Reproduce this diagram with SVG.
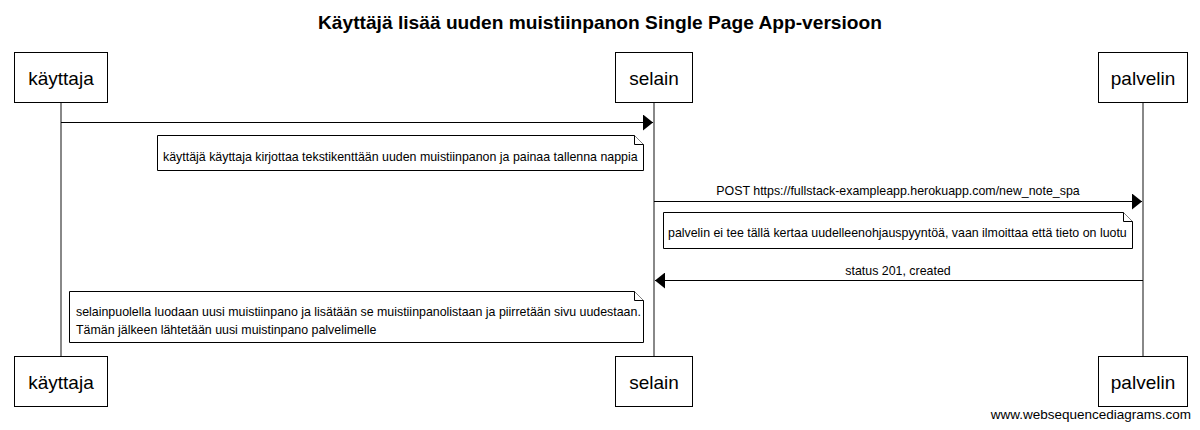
<svg xmlns="http://www.w3.org/2000/svg" width="1200" height="430" viewBox="0 0 1200 430">
<style>
text{font-family:"Liberation Sans",Arial,sans-serif;fill:#000}
.title{font-size:18.5px;font-weight:bold;text-anchor:middle}
.pbox{fill:#fff;stroke:#000;stroke-width:1}
.plabel{font-size:19px;text-anchor:middle}
.life{stroke:#888;stroke-width:2}
.msg{stroke:#000;stroke-width:1;fill:none}
.mlabel{font-size:12.4px;text-anchor:middle}
.note{fill:#fff;stroke:#000;stroke-width:1}
.ntext{font-size:12.4px}
.wm{font-size:13.5px;text-anchor:end}
</style>
<defs>
<marker id="arr" markerUnits="userSpaceOnUse" markerWidth="10" markerHeight="16" refX="10" refY="8" orient="auto">
<path d="M0,0 L10,8 L0,16 Z" fill="#000"/>
</marker>
</defs>
<text class="title" x="600" y="29" textLength="564" lengthAdjust="spacingAndGlyphs">Käyttäjä lisää uuden muistiinpanon Single Page App-versioon</text>
<g id="lifelines">
<line class="life" x1="61" y1="102" x2="61" y2="356"/>
<line class="life" x1="654" y1="102" x2="654" y2="356"/>
<line class="life" x1="1143" y1="102" x2="1143" y2="356"/>
</g>
<g id="kayttaja">
<rect class="pbox" x="14.5" y="52.5" width="93" height="50"/>
<text class="plabel" x="61" y="85">käyttaja</text>
<rect class="pbox" x="14.5" y="356.5" width="93" height="50"/>
<text class="plabel" x="61" y="389">käyttaja</text>
</g>
<g id="selain">
<rect class="pbox" x="615.5" y="52.5" width="77" height="50"/>
<text class="plabel" x="654" y="85">selain</text>
<rect class="pbox" x="615.5" y="356.5" width="77" height="50"/>
<text class="plabel" x="654" y="389">selain</text>
</g>
<g id="palvelin">
<rect class="pbox" x="1098.5" y="52.5" width="89" height="50"/>
<text class="plabel" x="1143" y="85">palvelin</text>
<rect class="pbox" x="1098.5" y="356.5" width="89" height="50"/>
<text class="plabel" x="1143" y="389">palvelin</text>
</g>
<g id="connectors">
<line class="msg" x1="61" y1="122.5" x2="653" y2="122.5" marker-end="url(#arr)"/>
<line class="msg" x1="654" y1="201.5" x2="1142" y2="201.5" marker-end="url(#arr)"/>
<text class="mlabel" x="898" y="195">POST https://fullstack-exampleapp.herokuapp.com/new_note_spa</text>
<line class="msg" x1="1143" y1="280.5" x2="655" y2="280.5" marker-end="url(#arr)"/>
<text class="mlabel" x="898" y="275">status 201, created</text>
</g>
<g id="note1">
<path class="note" d="M157.5,135.5 H634.5 L643.5,144.5 V170.5 H157.5 Z"/>
<path class="note" fill="none" d="M634.5,135.5 V144.5 H643.5"/>
<text class="ntext" x="163" y="161">käyttäjä käyttaja kirjottaa tekstikenttään uuden muistiinpanon ja painaa tallenna nappia</text>
</g>
<g id="note2">
<path class="note" d="M663.5,212.5 H1123.5 L1132.5,221.5 V248.5 H663.5 Z"/>
<path class="note" fill="none" d="M1123.5,212.5 V221.5 H1132.5"/>
<text class="ntext" x="668" y="237">palvelin ei tee tällä kertaa uudelleenohjauspyyntöä, vaan ilmoittaa että tieto on luotu</text>
</g>
<g id="note3">
<path class="note" d="M69.5,291.5 H634.5 L643.5,300.5 V342.5 H69.5 Z"/>
<path class="note" fill="none" d="M634.5,291.5 V300.5 H643.5"/>
<text class="ntext" x="76" y="316">selainpuolella luodaan uusi muistiinpano ja lisätään se muistiinpanolistaan ja piirretään sivu uudestaan.</text>
<text class="ntext" x="76" y="334">Tämän jälkeen lähtetään uusi muistinpano palvelimelle</text>
</g>
<text class="wm" x="1191" y="419">www.websequencediagrams.com</text>
</svg>
